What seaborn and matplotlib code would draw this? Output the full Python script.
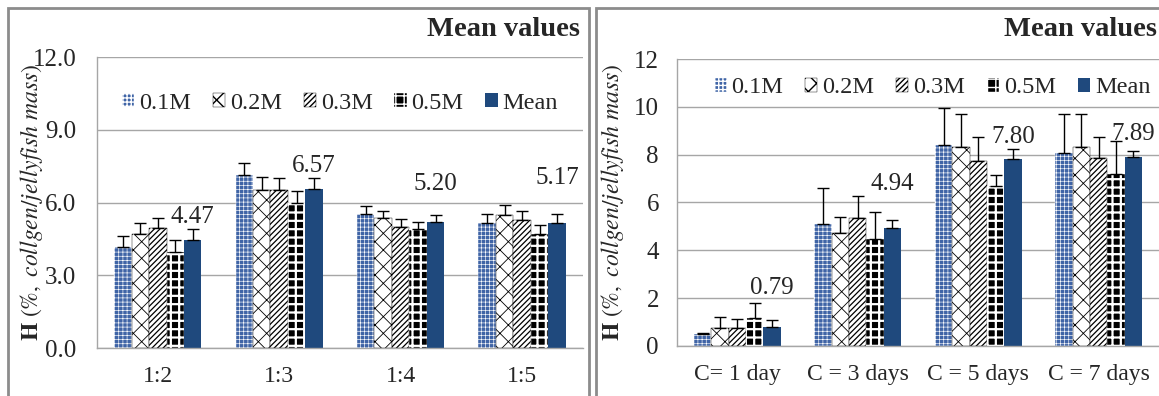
import pandas as pd
import matplotlib.pyplot as plt
import seaborn as sns
from matplotlib.patches import Rectangle

# ---- data ----
conc = ['0.1M', '0.2M', '0.3M', '0.5M', 'Mean']

ratio_groups = ['1:2', '1:3', '1:4', '1:5']
ratio_01 = [4.18, 7.13, 5.52, 5.14]
ratio_02 = [4.69, 6.52, 5.35, 5.48]
ratio_03 = [4.93, 6.52, 4.98, 5.28]
ratio_05 = [3.97, 5.99, 4.91, 4.69]
ratio_mean = [4.47, 6.57, 5.20, 5.17]
ratio_err_01 = [0.45, 0.50, 0.34, 0.37]
ratio_err_02 = [0.45, 0.54, 0.31, 0.42]
ratio_err_03 = [0.44, 0.50, 0.34, 0.37]
ratio_err_05 = [0.48, 0.48, 0.30, 0.38]
ratio_err_mean = [0.45, 0.45, 0.27, 0.34]

day_groups = ['C= 1 day', 'C = 3 days', 'C = 5 days', 'C = 7 days']
day_01 = [0.50, 5.10, 8.40, 8.08]
day_02 = [0.77, 4.71, 8.31, 8.31]
day_03 = [0.77, 5.37, 7.74, 7.85]
day_05 = [1.19, 4.48, 6.67, 7.18]
day_mean = [0.79, 4.94, 7.80, 7.89]
day_err_01 = [0.03, 1.52, 1.57, 1.64]
day_err_02 = [0.46, 0.70, 1.38, 1.38]
day_err_03 = [0.35, 0.92, 0.98, 0.90]
day_err_05 = [0.62, 1.13, 0.46, 1.39]
day_err_mean = [0.29, 0.33, 0.45, 0.28]


def to_frame(groups, series):
    rows = []
    for name, vals in zip(conc, series):
        for g, v in zip(groups, vals):
            rows.append({'group': g, 'conc': name, 'value': v})
    return pd.DataFrame(rows)


ratio_df = to_frame(ratio_groups, [ratio_01, ratio_02, ratio_03, ratio_05, ratio_mean])
ratio_err = [ratio_err_01, ratio_err_02, ratio_err_03, ratio_err_05, ratio_err_mean]
day_df = to_frame(day_groups, [day_01, day_02, day_03, day_05, day_mean])
day_err = [day_err_01, day_err_02, day_err_03, day_err_05, day_err_mean]

sns.set_style('white')
plt.rcParams['font.family'] = ['Liberation Serif', 'DejaVu Serif']
plt.rcParams['mathtext.fontset'] = 'stix'

# fill colour, hatch, hatch colour, hatch width
styles = {
    '0.1M': ('#3f64a6', '++++', 'white', 0.45),
    '0.2M': ('white', 'xx', 'black', 0.6),
    '0.3M': ('white', '//////', 'black', 0.9),
    '0.5M': ('black', '++', 'white', 1.6),
    'Mean': ('#1f497d', '', '#1f497d', 1.0),
}
palette = {k: v[0] for k, v in styles.items()}

grid_c = '#a6a6a6'
FS = 18


def draw(ax, df, errs, ticks, fmt, lifts, legend_xy, ypad):
    sns.barplot(data=df, x='group', y='value', hue='conc', hue_order=conc,
                palette=palette, errorbar=None, width=0.72, gap=0,
                saturation=1, ax=ax, legend=False)
    for cont, name, err in zip(ax.containers, conc, errs):
        fc, hatch, hc, hlw = styles[name]
        for p in cont:
            p.set_hatch(hatch)
            p.set_edgecolor(hc)
            p.set_linewidth(0 if name == 'Mean' else 0.3)
            if hasattr(p, 'set_hatch_linewidth'):
                p.set_hatch_linewidth(hlw)
        xs = [p.get_x() + p.get_width() / 2 for p in cont]
        hs = [p.get_height() for p in cont]
        ax.errorbar(xs, hs, yerr=[[0] * len(err), err], fmt='none',
                    ecolor='black', elinewidth=1, capsize=4.5, capthick=1,
                    zorder=3)
        if name == 'Mean':
            for x, h, e, lift in zip(xs, hs, err, lifts):
                ax.text(x, h + e + lift, f'{h:.2f}', ha='center', va='center',
                        fontsize=FS)
    ax.set_ylim(0, 12)
    ax.set_xlim(-0.5, 3.5)
    ax.set_yticks(ticks)
    ax.set_yticklabels([fmt.format(t) for t in ticks], fontsize=FS, color='#262626')
    ax.tick_params(axis='x', labelsize=17, length=0, pad=13)
    ax.set_xticks([0.5, 1.5, 2.5], minor=True)
    ax.tick_params(axis='x', which='minor', length=6, color=grid_c, direction='out')
    ax.tick_params(axis='y', length=5, color=grid_c, direction='out', pad=ypad)
    ax.yaxis.grid(True, color=grid_c, lw=1)
    ax.set_axisbelow(True)
    for s in ['top', 'right']:
        ax.spines[s].set_visible(False)
    for s in ['left', 'bottom']:
        ax.spines[s].set_color(grid_c)
        ax.spines[s].set_linewidth(1)
    ax.set_xlabel('')
    ax.set_ylabel(r'$\mathbf{H}\ \mathit{(\%,\ collgen/jellyfish\ mass)}$',
                  fontsize=17)
    ax.legend(handles=ax.containers, labels=conc, ncol=5, frameon=False,
              loc='upper center', bbox_to_anchor=legend_xy,
              fontsize=17.5, handlelength=0.5, handleheight=0.5,
              handletextpad=0.2, columnspacing=0.9, borderaxespad=0)


fig = plt.figure(figsize=(11.59, 3.96), dpi=100)

ax1 = fig.add_axes([0.0837, 0.1212, 0.4193, 0.7348])
draw(ax1, ratio_df, ratio_err, [0, 3, 6, 9, 12], '{:.1f}', [0.5, 0.5, 1.3, 1.5],
     (0.5, 0.91), 10)
ax1.yaxis.set_label_coords(-0.108, 0.5)

ax2 = fig.add_axes([0.5841, 0.1263, 0.4159, 0.7247])
draw(ax2, day_df, day_err, [0, 2, 4, 6, 8, 10, 12], '{:d}', [1.35, 1.5, 0.5, 0.7],
     (0.53, 0.97), 8)
ax2.yaxis.set_label_coords(-0.105, 0.5)

# panel frames and titles
fig.add_artist(Rectangle((8 / 1159, -0.05), 581 / 1159, 1 - 8 / 396 + 0.05,
                         transform=fig.transFigure, fill=False,
                         edgecolor='#8c8c8c', lw=2))
fig.add_artist(Rectangle((596 / 1159, -0.05), 0.6, 1 - 8 / 396 + 0.05,
                         transform=fig.transFigure, fill=False,
                         edgecolor='#8c8c8c', lw=2))
fig.text(580 / 1159, 1 - 30 / 396, 'Mean values', ha='right', va='center',
         fontsize=20.5, fontweight='bold')
fig.text(1157 / 1159, 1 - 30 / 396, 'Mean values', ha='right', va='center',
         fontsize=20.5, fontweight='bold')

fig.savefig('out.png', dpi=100)
